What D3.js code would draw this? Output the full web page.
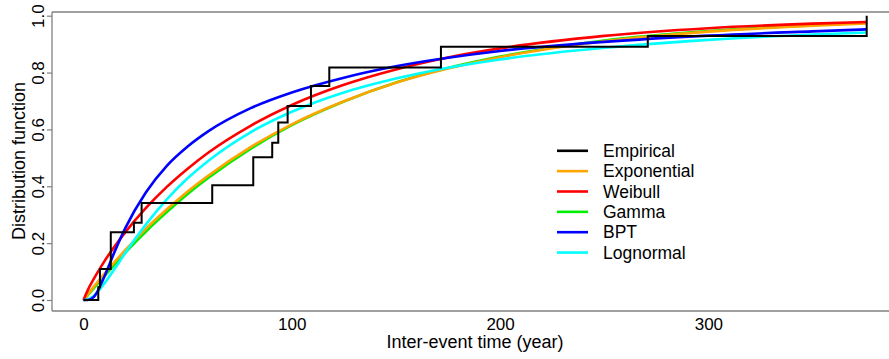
<!DOCTYPE html>
<html>
<head>
<meta charset="utf-8">
<script src="https://cdn.jsdelivr.net/npm/d3@7"></script>
<style>
  html, body { margin: 0; padding: 0; background: #fff; }
  svg { display: block; font-family: "Liberation Sans", Arial, sans-serif; }
</style>
</head>
<body>
<svg id="chart" width="889" height="359"></svg>
<script>
// Empirical distribution: jump times (years) and cumulative level after each jump
const stepTimes  = [7.1, 7.9, 13.1, 24.2, 27.9, 61.8, 81.5, 90.6, 93.5, 98.0, 109.2, 118.0, 171.6, 270.9, 376.0];
const stepLevels = [0.045, 0.109, 0.238, 0.272, 0.341, 0.404, 0.502, 0.553, 0.624, 0.682, 0.753, 0.818, 0.891, 0.929, 1.0];

// Fitted distribution functions sampled at these times (years)
const curveTimes = [0, 2, 5, 10, 15, 20, 30, 40, 50, 60, 80, 100, 125, 150, 175, 200, 250, 300, 350, 376];
const exponentialF = [0, 0.019, 0.047, 0.092, 0.134, 0.175, 0.251, 0.319, 0.382, 0.438, 0.537, 0.618, 0.699, 0.764, 0.814, 0.854, 0.910, 0.944, 0.965, 0.973];
const weibullF     = [0, 0.034, 0.075, 0.136, 0.189, 0.238, 0.324, 0.398, 0.462, 0.519, 0.612, 0.686, 0.757, 0.811, 0.853, 0.885, 0.929, 0.956, 0.972, 0.978];
const gammaF       = [0, 0.016, 0.042, 0.084, 0.125, 0.166, 0.241, 0.309, 0.373, 0.430, 0.531, 0.615, 0.698, 0.765, 0.816, 0.856, 0.913, 0.946, 0.967, 0.975];
const bptF         = [0, 0.000, 0.011, 0.082, 0.171, 0.252, 0.379, 0.472, 0.540, 0.594, 0.674, 0.730, 0.782, 0.822, 0.852, 0.876, 0.908, 0.930, 0.945, 0.952];
const lognormalF   = [0, 0.002, 0.015, 0.058, 0.110, 0.165, 0.266, 0.354, 0.428, 0.490, 0.589, 0.662, 0.730, 0.779, 0.817, 0.846, 0.887, 0.915, 0.934, 0.941];

const xTicks = [0, 100, 200, 300];
const yTicks = [0, 0.2, 0.4, 0.6, 0.8, 1.0];

const legendNames  = ["Empirical", "Exponential", "Weibull", "Gamma", "BPT", "Lognormal"];
const legendColors = ["#000000", "#FFA500", "#FF0000", "#00EE00", "#0000FF", "#00FFFF"];

const svg = d3.select("#chart");
const x = d3.scaleLinear().domain([0, 376]).range([83.5, 866.7]);
const y = d3.scaleLinear().domain([0, 1]).range([300, 15.7]);

const frame = { left: 52, top: 12, bottom: 311, right: 889 };
const axisColor = "#808080";

// plot frame (left, top, bottom)
const fg = svg.append("g").attr("stroke", axisColor).attr("stroke-width", 1.3).attr("fill", "none");
fg.append("line").attr("x1", frame.left).attr("x2", frame.left).attr("y1", frame.top).attr("y2", frame.bottom);
fg.append("line").attr("x1", frame.left).attr("x2", frame.right).attr("y1", frame.top).attr("y2", frame.top);
fg.append("line").attr("x1", frame.left).attr("x2", frame.right).attr("y1", frame.bottom).attr("y2", frame.bottom);

// y axis ticks and rotated labels
const yAxis = svg.append("g").attr("transform", `translate(${frame.left},0)`)
  .call(d3.axisLeft(y).tickValues(yTicks).tickSize(5).tickFormat(d3.format(".1f")));
yAxis.select(".domain").remove();
yAxis.selectAll(".tick line").attr("stroke", axisColor).attr("stroke-width", 1.2);
yAxis.selectAll(".tick text")
  .attr("x", null).attr("dy", null)
  .attr("transform", "translate(-14,0) rotate(-90)")
  .attr("text-anchor", "middle")
  .attr("dominant-baseline", "central")
  .attr("font-size", 17).attr("fill", "#000");

// x axis labels (no tick marks)
const xAxis = svg.append("g").attr("transform", `translate(0,${frame.bottom})`)
  .call(d3.axisBottom(x).tickValues(xTicks).tickSize(0).tickPadding(6).tickFormat(d3.format("d")));
xAxis.select(".domain").remove();
xAxis.selectAll(".tick text").attr("font-size", 17).attr("fill", "#000").attr("dy", "0.75em");

// axis titles
svg.append("text").attr("x", 475).attr("y", 342).attr("text-anchor", "middle")
  .attr("dominant-baseline", "central").attr("font-size", 18).text("Inter-event time (year)");
svg.append("text").attr("transform", "translate(19,161) rotate(-90)").attr("text-anchor", "middle")
  .attr("dominant-baseline", "central").attr("font-size", 18).text("Distribution function");

// fitted curves
const fitted = [
  { values: gammaF, color: legendColors[3] },
  { values: exponentialF, color: legendColors[1] },
  { values: weibullF, color: legendColors[2] },
  { values: lognormalF, color: legendColors[5] },
  { values: bptF, color: legendColors[4] }
];
const curveLine = d3.line().x(d => x(d[0])).y(d => y(d[1])).curve(d3.curveMonotoneX);
fitted.forEach(s => {
  svg.append("path")
    .datum(curveTimes.map((t, i) => [t, s.values[i]]))
    .attr("d", curveLine)
    .attr("fill", "none").attr("stroke", s.color).attr("stroke-width", 2.6);
});

// empirical step function
const stepPts = [[0, 0]].concat(stepTimes.map((t, i) => [t, stepLevels[i]]));
const stepLine = d3.line().x(d => x(d[0])).y(d => y(d[1])).curve(d3.curveStepAfter);
svg.append("path").datum(stepPts).attr("d", stepLine)
  .attr("fill", "none").attr("stroke", "#000").attr("stroke-width", 2);

// legend
const lg = svg.append("g");
legendNames.forEach((name, i) => {
  const ly = 150.8 + i * 20.35;
  lg.append("line").attr("x1", 557).attr("x2", 588).attr("y1", ly).attr("y2", ly)
    .attr("stroke", legendColors[i]).attr("stroke-width", 2.6);
  lg.append("text").attr("x", 603).attr("y", ly).attr("dominant-baseline", "central")
    .attr("font-size", 17.5).text(name);
});
</script>
</body>
</html>
